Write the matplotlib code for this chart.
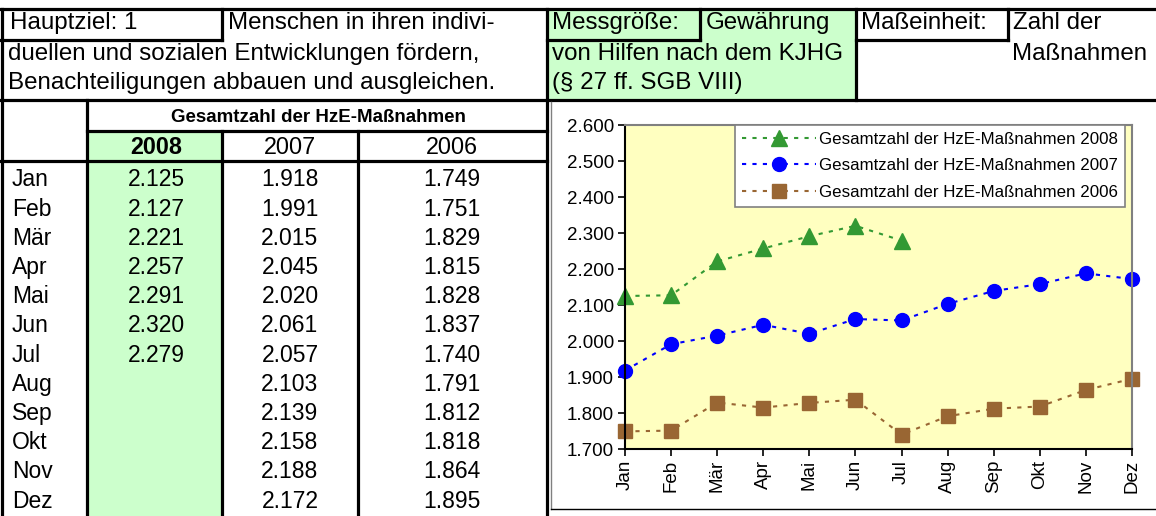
import numpy as np
import matplotlib.pyplot as plt
from matplotlib.patches import Rectangle

plt.rcParams['font.family'] = ['Liberation Sans', 'DejaVu Sans']

# values as shown in the sheet
months = ['Jan', 'Feb', 'Mär', 'Apr', 'Mai', 'Jun', 'Jul', 'Aug', 'Sep', 'Okt', 'Nov', 'Dez']
years = ['2008', '2007', '2006']
hze_2008 = [2125, 2127, 2221, 2257, 2291, 2320, 2279]
hze_2007 = [1918, 1991, 2015, 2045, 2020, 2061, 2057, 2103, 2139, 2158, 2188, 2172]
hze_2006 = [1749, 1751, 1829, 1815, 1828, 1837, 1740, 1791, 1812, 1818, 1864, 1895]
series_label = 'Gesamtzahl der HzE-Maßnahmen'


def de(v):
    # german thousands separator
    return f'{v:,.0f}'.replace(',', '.')


W, H = 1156, 516
fig = plt.figure(figsize=(W / 100, H / 100), dpi=100)

# background axes in pixel coordinates for the spreadsheet part
bg = fig.add_axes([0, 0, 1, 1])
bg.set_xlim(0, W)
bg.set_ylim(H, 0)
bg.axis('off')

GREEN = '#ccffcc'


def line(x0, y0, x1, y1, lw=2.3, c='black'):
    bg.plot([x0, x1], [y0, y1], color=c, lw=lw, solid_capstyle='projecting')


def rect(x0, y0, x1, y1, fc):
    bg.add_patch(Rectangle((x0, y0), x1 - x0, y1 - y0, fc=fc, ec='none'))


def txt(x, y, s, ha='left', size=17.4, weight='normal'):
    bg.text(x, y, s, ha=ha, va='center', fontsize=size, fontweight=weight)


rect(549, 10, 855, 100, GREEN)
rect(88, 131, 222, H, GREEN)

# header frame
line(0, 9, W, 9)
line(1.5, 9, 1.5, H)
line(222, 9, 222, 40)
line(0, 40, 222, 40)
line(547, 9, 547, H)
line(700, 9, 700, 40)
line(547, 40, 700, 40)
line(856, 9, 856, 100)
line(1008, 9, 1008, 40)
line(856, 40, 1008, 40)
line(0, 100, W, 100)

# table frame
line(87, 100, 87, H)
line(87, 131, 547, 131)
line(222, 131, 222, H)
line(358, 131, 358, H)
line(0, 161, 547, 161)

# chart frame
bg.plot([551, 551], [102, 509], color='#808080', lw=1)
bg.plot([551, W], [509, 509], color='black', lw=1)

txt(10, 23, 'Hauptziel: 1')
txt(228, 23, 'Menschen in ihren indivi-')
txt(8, 54, 'duellen und sozialen Entwicklungen fördern,')
txt(8, 83, 'Benachteiligungen abbauen und ausgleichen.')
txt(552, 23, 'Messgröße:')
txt(706, 23, 'Gewährung')
txt(552, 54, 'von Hilfen nach dem KJHG')
txt(552, 83, '(§ 27 ff. SGB VIII)')
txt(861, 23, 'Maßeinheit:')
txt(1013, 23, 'Zahl der')
txt(1147, 54, 'Maßnahmen', ha='right')

txt(318, 117, series_label, ha='center', size=13.5, weight='bold')
col_x = [156, 290, 452]
for cx, yr in zip(col_x, years):
    txt(cx, 147, yr, ha='center', size=16.8,
        weight='bold' if yr == '2008' else 'normal')

for i, m in enumerate(months):
    y = 180 + i * 29.2
    txt(12, y, m, size=16.5)
    for cx, vals in zip(col_x, [hze_2008, hze_2007, hze_2006]):
        if i < len(vals):
            txt(cx, y, de(vals[i]), ha='center', size=16.5)

# chart
ax = fig.add_axes([625 / W, 1 - 449 / H, (1132 - 625) / W, (449 - 125) / H])
ax.set_facecolor('#ffffc0')
x = np.arange(len(months))
styles = [
    (hze_2008, '#339933', '^', 11),
    (hze_2007, '#0000ff', 'o', 10),
    (hze_2006, '#996633', 's', 9.5),
]
for (vals, col, mk, ms), yr in zip(styles, years):
    ax.plot(x[:len(vals)], vals, color=col, ls=(0, (2, 3)), lw=1.5,
            marker=mk, ms=ms, mec=col, clip_on=False,
            label=f'{series_label} {yr}')

ax.set_xlim(0, 11)
ax.set_ylim(1700, 2600)
ax.set_yticks(np.arange(1700, 2601, 100))
ax.set_yticklabels([de(v) for v in np.arange(1700, 2601, 100)], fontsize=13.5)
ax.set_xticks(x)
ax.set_xticklabels(months, rotation=90, fontsize=13.5)
ax.tick_params(direction='out', length=5, width=1.2, pad=3)
for s in ['top', 'right']:
    ax.spines[s].set_color('#808080')
    ax.spines[s].set_linewidth(1.5)
for s in ['left', 'bottom']:
    ax.spines[s].set_linewidth(1.5)

leg = ax.legend(loc='upper left', bbox_to_anchor=(735 / W, 1 - 125 / H),
                bbox_transform=fig.transFigure, fontsize=12.2, frameon=True,
                fancybox=False, edgecolor='#808080', framealpha=1,
                borderaxespad=0, borderpad=0.4, handlelength=4.4,
                handletextpad=0.15, labelspacing=0.68)
leg.get_frame().set_linewidth(1.2)

fig.savefig('out.png', dpi=100)
